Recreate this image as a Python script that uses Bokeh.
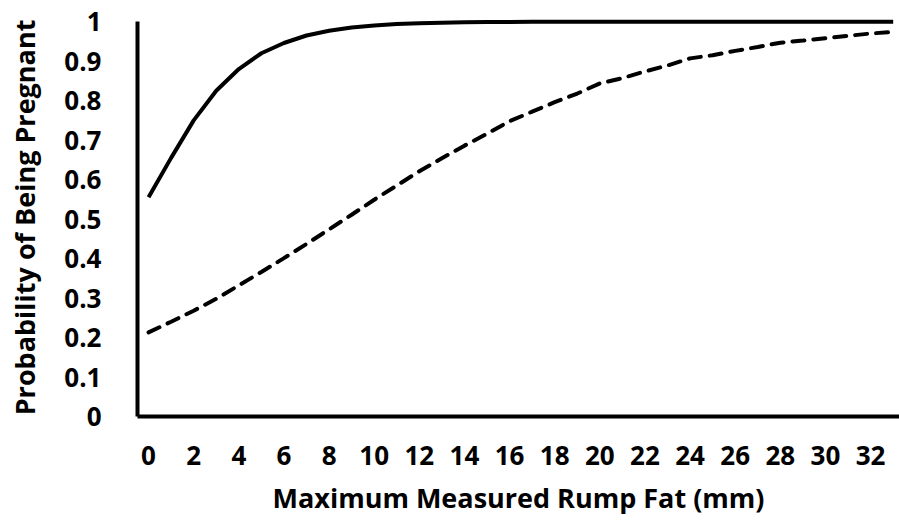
from bokeh.plotting import figure
from bokeh.models import FixedTicker, Range1d
from bokeh.embed import file_html
from bokeh.resources import INLINE

# Maximum measured rump fat (mm)
fat_mm = [0, 1, 2, 3, 4, 5, 6, 7, 8, 9, 10, 11, 12, 13, 14, 15, 16, 17, 18, 19, 20,
          21, 22, 23, 24, 25, 26, 27, 28, 29, 30, 31, 32, 33]
# Probability of being pregnant - solid curve
prob_solid = [0.555, 0.655, 0.75, 0.825, 0.88, 0.92, 0.946, 0.965, 0.977, 0.985, 0.990,
              0.994, 0.996, 0.9975, 0.9984, 0.999, 0.9994, 0.9996, 0.9997, 0.9998, 0.9999,
              0.9999, 0.9999, 1.0, 1.0, 1.0, 1.0, 1.0, 1.0, 1.0, 1.0, 1.0, 1.0, 1.0]
# Probability of being pregnant - dashed curve
prob_dashed = [0.213, 0.24, 0.268, 0.298, 0.332, 0.366, 0.401, 0.437, 0.474, 0.511, 0.549,
               0.585, 0.621, 0.654, 0.686, 0.716, 0.748, 0.772, 0.796, 0.818, 0.8435,
               0.857, 0.874, 0.889, 0.907, 0.915, 0.926, 0.936, 0.9467, 0.952, 0.958,
               0.964, 0.970, 0.974]

x_ticks = [0, 2, 4, 6, 8, 10, 12, 14, 16, 18, 20, 22, 24, 26, 28, 30, 32]
y_ticks = [0, 0.1, 0.2, 0.3, 0.4, 0.5, 0.6, 0.7, 0.8, 0.9, 1]
y_labels = ["0", "0.1", "0.2", "0.3", "0.4", "0.5", "0.6", "0.7", "0.8", "0.9", "1"]

FONT = "Open Sans"

p = figure(width=899, height=520, output_backend="svg", toolbar_location=None,
           x_range=Range1d(-0.49, 33.28), y_range=Range1d(0, 1.008),
           min_border_left=137, min_border_right=0, min_border_top=18, min_border_bottom=104)
p.outline_line_color = None
p.grid.visible = False
p.background_fill_color = "white"
p.border_fill_color = "white"

p.line(fat_mm, prob_solid, line_color="black", line_width=4)
p.line(fat_mm, prob_dashed, line_color="black", line_width=4, line_dash="12 9", line_cap="round")

for ax in (p.xaxis[0], p.yaxis[0]):
    ax.axis_line_width = 4
    ax.axis_line_color = "black"
    ax.major_tick_line_color = None
    ax.minor_tick_line_color = None
    ax.major_label_text_font = FONT
    ax.major_label_text_font_style = "bold"
    ax.major_label_text_font_size = "26px"
    ax.major_label_text_color = "black"
    ax.axis_label_text_font = FONT
    ax.axis_label_text_font_style = "bold"
    ax.axis_label_text_font_size = "27px"
    ax.axis_label_text_color = "black"

p.xaxis[0].ticker = FixedTicker(ticks=x_ticks)
p.yaxis[0].ticker = FixedTicker(ticks=y_ticks)
p.yaxis[0].major_label_overrides = {t: l for t, l in zip(y_ticks, y_labels)}
p.yaxis[0].bounds = (0, 1)
p.xaxis[0].axis_label = "Maximum Measured Rump Fat (mm)"
p.yaxis[0].axis_label = "Probability of Being Pregnant"
p.xaxis[0].major_label_standoff = 23
p.yaxis[0].major_label_standoff = 30
p.xaxis[0].axis_label_standoff = 11
p.yaxis[0].axis_label_standoff = 18

open("out.html", "w").write(file_html(p, INLINE))
